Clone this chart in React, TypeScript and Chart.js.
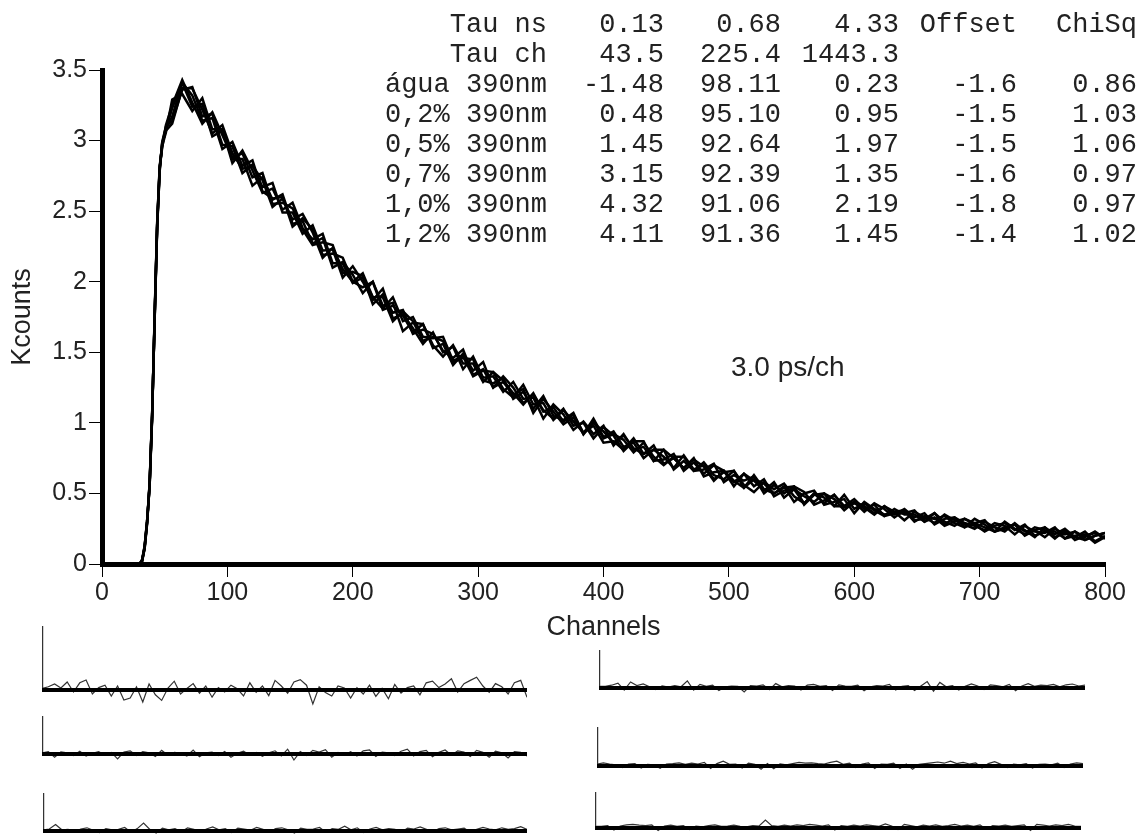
import React, { useEffect, useRef } from "react";
import { Chart, registerables } from "chart.js";
Chart.register(...registerables);

// ---------- main decay data (Kcounts vs channel) ----------
const CHANNELS = [
  0, 30, 32, 34, 36, 38, 40, 42, 44, 46, 48, 51,
  56, 64, 72, 80, 88, 96, 104, 112, 120, 128, 136, 144, 152, 160,
  168, 176, 184, 192, 200, 208, 216, 224, 232, 240, 248, 256, 264, 272, 280, 288, 296, 304, 312, 320,
  328, 336, 344, 352, 360, 368, 376, 384, 392, 400,
  408, 416, 424, 432, 440, 448, 456, 464, 472, 480, 488, 496, 504, 512, 520, 528, 536, 544, 552, 560,
  568, 576, 584, 592, 600,
  608, 616, 624, 632, 640, 648, 656, 664, 672, 680, 688, 696, 704, 712, 720, 728, 736, 744, 752, 760,
  768, 776, 784, 792, 800,
];

const AGUA = [
  0, 0, 0.03, 0.12, 0.3, 0.56, 1.05, 1.75, 2.4, 2.8, 2.97, 3.08,
  3.23, 3.41, 3.24, 3.26, 3.03, 3.07, 2.87, 2.87, 2.68, 2.74, 2.58, 2.62, 2.41, 2.43,
  2.27, 2.31, 2.1, 2.14, 2.05, 1.92, 2.0, 1.83, 1.85, 1.65, 1.71, 1.7, 1.53, 1.56, 1.41, 1.49, 1.37, 1.43, 1.25, 1.29,
  1.2, 1.24, 1.07, 1.17, 1.08, 0.99, 1.04, 0.92, 1.03, 0.9,
  0.94, 0.83, 0.86, 0.75, 0.81, 0.76, 0.68, 0.77, 0.67, 0.7, 0.6, 0.65, 0.66, 0.56, 0.51, 0.58, 0.53, 0.57, 0.48, 0.43,
  0.5, 0.47, 0.41, 0.49, 0.39,
  0.43, 0.38, 0.34, 0.39, 0.35, 0.35, 0.3, 0.36, 0.3, 0.27, 0.32, 0.28, 0.23, 0.27, 0.29, 0.24, 0.28, 0.2, 0.23, 0.23,
  0.18, 0.23, 0.19, 0.23, 0.18,
];
const P02 = [
  0, 0, 0.02, 0.11, 0.29, 0.57, 1.07, 1.73, 2.38, 2.79, 2.99, 3.1,
  3.14, 3.36, 3.38, 3.17, 3.19, 2.97, 2.96, 2.77, 2.83, 2.67, 2.7, 2.49, 2.49, 2.34,
  2.4, 2.22, 2.23, 2.03, 2.11, 2.0, 1.87, 1.95, 1.74, 1.77, 1.67, 1.56, 1.64, 1.5, 1.54, 1.38, 1.47, 1.32, 1.33, 1.22,
  1.29, 1.17, 1.18, 1.03, 1.13, 1.06, 0.95, 1.01, 0.92, 0.98,
  0.84, 0.92, 0.81, 0.83, 0.73, 0.81, 0.75, 0.68, 0.75, 0.62, 0.65, 0.66, 0.55, 0.64, 0.59, 0.52, 0.58, 0.47, 0.53, 0.48,
  0.44, 0.5, 0.46, 0.38, 0.44,
  0.37, 0.43, 0.39, 0.33, 0.38, 0.3, 0.34, 0.32, 0.34, 0.29, 0.26, 0.32, 0.28, 0.23, 0.26, 0.28, 0.2, 0.24, 0.26, 0.19,
  0.22, 0.19, 0.23, 0.16, 0.2,
];
const P05 = [
  0, 0, 0.03, 0.13, 0.31, 0.55, 1.04, 1.76, 2.41, 2.82, 2.96, 3.06,
  3.29, 3.33, 3.21, 3.3, 3.08, 3.08, 2.84, 2.93, 2.79, 2.63, 2.66, 2.51, 2.56, 2.38,
  2.3, 2.34, 2.13, 2.13, 1.99, 2.03, 1.89, 1.81, 1.89, 1.72, 1.75, 1.61, 1.6, 1.61, 1.44, 1.47, 1.33, 1.37, 1.36, 1.24,
  1.18, 1.27, 1.13, 1.14, 1.02, 1.09, 1.01, 0.93, 1.01, 0.89,
  0.92, 0.88, 0.79, 0.86, 0.76, 0.7, 0.76, 0.76, 0.66, 0.67, 0.71, 0.58, 0.63, 0.59, 0.62, 0.5, 0.56, 0.5, 0.55, 0.51,
  0.42, 0.45, 0.49, 0.41, 0.44,
  0.41, 0.36, 0.41, 0.37, 0.31, 0.37, 0.33, 0.29, 0.35, 0.31, 0.28, 0.25, 0.3, 0.26, 0.23, 0.29, 0.23, 0.24, 0.19, 0.25,
  0.21, 0.23, 0.17, 0.2, 0.22,
];
const P07 = [
  0, 0, 0.02, 0.12, 0.3, 0.58, 1.06, 1.74, 2.39, 2.78, 2.98, 3.09,
  3.17, 3.41, 3.32, 3.14, 3.16, 2.94, 2.99, 2.82, 2.86, 2.64, 2.59, 2.6, 2.39, 2.45,
  2.37, 2.19, 2.2, 2.17, 2.0, 1.96, 2.0, 1.8, 1.83, 1.76, 1.64, 1.7, 1.55, 1.47, 1.55, 1.42, 1.42, 1.29, 1.36, 1.3,
  1.21, 1.13, 1.21, 1.08, 1.11, 1.01, 1.06, 0.93, 0.98, 0.86,
  0.87, 0.81, 0.89, 0.78, 0.81, 0.81, 0.67, 0.73, 0.66, 0.72, 0.63, 0.6, 0.66, 0.54, 0.6, 0.57, 0.5, 0.55, 0.44, 0.5,
  0.52, 0.42, 0.44, 0.46, 0.36,
  0.44, 0.39, 0.35, 0.37, 0.38, 0.31, 0.32, 0.36, 0.28, 0.33, 0.29, 0.27, 0.24, 0.29, 0.27, 0.21, 0.27, 0.23, 0.22, 0.26,
  0.18, 0.2, 0.21, 0.15, 0.19,
];
const P10 = [
  0, 0, 0.03, 0.11, 0.29, 0.56, 1.05, 1.77, 2.42, 2.81, 2.95, 3.11,
  3.25, 3.43, 3.27, 3.12, 3.2, 3.04, 2.88, 2.91, 2.74, 2.77, 2.55, 2.56, 2.52, 2.37,
  2.26, 2.28, 2.26, 2.06, 2.07, 2.04, 1.84, 1.91, 1.78, 1.8, 1.63, 1.66, 1.63, 1.51, 1.46, 1.52, 1.34, 1.38, 1.25, 1.33,
  1.25, 1.14, 1.2, 1.09, 1.03, 1.1, 0.98, 1.0, 0.89, 0.97,
  0.91, 0.8, 0.87, 0.87, 0.73, 0.74, 0.78, 0.66, 0.72, 0.64, 0.7, 0.66, 0.59, 0.54, 0.63, 0.53, 0.5, 0.54, 0.55, 0.42,
  0.49, 0.5, 0.41, 0.41, 0.46,
  0.39, 0.42, 0.34, 0.36, 0.36, 0.38, 0.3, 0.33, 0.27, 0.3, 0.32, 0.29, 0.26, 0.23, 0.3, 0.25, 0.21, 0.26, 0.24, 0.18,
  0.24, 0.17, 0.2, 0.22, 0.18,
];
const P12 = [
  0, 0, 0.02, 0.12, 0.31, 0.57, 1.06, 1.74, 2.4, 2.8, 2.98, 3.07,
  3.12, 3.37, 3.37, 3.22, 3.05, 3.11, 2.91, 2.8, 2.82, 2.72, 2.53, 2.59, 2.44, 2.48,
  2.35, 2.17, 2.24, 2.09, 2.0, 2.06, 1.89, 1.89, 1.72, 1.79, 1.72, 1.58, 1.61, 1.58, 1.43, 1.46, 1.45, 1.3, 1.28, 1.32,
  1.17, 1.22, 1.1, 1.19, 1.05, 1.02, 1.07, 0.92, 1.0, 0.94,
  0.86, 0.91, 0.82, 0.78, 0.84, 0.71, 0.75, 0.68, 0.74, 0.69, 0.59, 0.66, 0.58, 0.64, 0.55, 0.6, 0.48, 0.52, 0.53, 0.43,
  0.5, 0.43, 0.49, 0.4, 0.43,
  0.4, 0.35, 0.41, 0.35, 0.39, 0.33, 0.36, 0.28, 0.32, 0.33, 0.26, 0.29, 0.31, 0.23, 0.25, 0.28, 0.24, 0.19, 0.26, 0.21,
  0.25, 0.19, 0.17, 0.2, 0.22,
];

const SAMPLE_NAMES = ["água 390nm", "0,2% 390nm", "0,5% 390nm", "0,7% 390nm", "1,0% 390nm", "1,2% 390nm"];
const SAMPLE_SERIES = [AGUA, P02, P05, P07, P10, P12];

const X_MIN = 0;
const X_MAX = 800;
const X_STEP = 100;
const Y_MIN = 0;
const Y_MAX = 3.5;
const Y_STEP = 0.5;

// ---------- fit table ----------
const HEAD_TAU_NS = ["Tau ns", "0.13", "0.68", "4.33", "Offset", "ChiSq"];
const HEAD_TAU_CH = ["Tau ch", "43.5", "225.4", "1443.3", "", ""];
const AMP_1 = ["-1.48", "0.48", "1.45", "3.15", "4.32", "4.11"];
const AMP_2 = ["98.11", "95.10", "92.64", "92.39", "91.06", "91.36"];
const AMP_3 = ["0.23", "0.95", "1.97", "1.35", "2.19", "1.45"];
const OFFSETS = ["-1.6", "-1.5", "-1.5", "-1.6", "-1.8", "-1.4"];
const CHISQ = ["0.86", "1.03", "1.06", "0.97", "0.97", "1.02"];
const NOTE = "3.0 ps/ch";

// ---------- weighted residuals ----------
const RES_CH = [
  0, 1, 10, 20, 30, 40, 50, 60, 70, 80, 90, 100, 110, 120, 130, 140, 150, 160, 170, 180, 190, 200,
  210, 220, 230, 240, 250, 260, 270, 280, 290, 300, 310, 320, 330, 340, 350, 360, 370, 380, 390, 400,
  410, 420, 430, 440, 450, 460, 470, 480, 490, 500, 510, 520, 530, 540, 550, 560, 570, 580, 590, 600,
  610, 620, 630, 640, 650, 660, 670, 680, 690, 700, 710, 720, 730, 740, 750, 760, 770,
];
const RES_AGUA = [
  16, 0.4,
  0.8, 1.5, 0.5, 2.0, -0.5, 1.8, 2.5, -1.0, 0.6, 1.2, -1.5,
  1.0, -2.5, -2.0, 0.8, -3.0, 1.5, -1.2, -2.6, 0.5, 2.2, -1.0,
  0.4, 1.6, -0.8, 1.0, -1.8, 0.6, -0.5, 1.2, 0.3, -1.5, 1.8,
  -0.6, 1.0, -1.4, 2.4, 1.0, -0.8, 2.0, 2.6, 1.2, -3.5, 0.8,
  -0.6, -1.5, 1.0, 0.5, -2.0, 0.6, -1.0, 1.2, -1.6, 0.4, -2.2,
  1.4, -0.8, 0.6, 1.0, -1.2, 1.8, 2.2, 0.6, 1.5, 2.8, -0.5,
  1.6, 2.4, 3.2, 1.0, -0.6, 1.6, 0.8, -1.0, 1.8, 2.4, -1.8,
];
const RES_P02 = [
  9.5, 0.3,
  0.6, -0.8, 0.5, 0.3, -0.4, 0.7, -0.5, 0.2, 0.6, -0.3, 0.4,
  -1.2, 0.5, 0.8, -0.4, 0.6, 0.3, -0.6, 0.9, -0.3, 0.4, 0.2,
  -0.5, 1.0, -0.7, 0.3, 0.5, -0.4, 0.6, -0.8, 0.2, 0.7, -0.3,
  0.4, -0.6, 0.3, 0.8, -0.5, 1.2, -1.5, 0.6, -0.4, 0.9, 0.5,
  1.1, -0.8, 0.4, -0.3, 0.6, -0.5, 0.8, 1.0, -0.6, 0.5, 0.3,
  -0.4, 0.7, 1.2, -0.5, 0.6, 0.9, -0.7, 0.4, 1.0, -0.3, 0.8,
  0.5, -0.6, 0.9, 0.4, -0.8, 0.7, 0.3, -1.0, 0.6, 0.4, -0.5,
];
const RES_P05 = [
  9.5, 0.3,
  0.5, 1.6, 0.3, 0.4, -0.3, 0.5, 0.8, 0.2, -0.4, 0.6, 0.3,
  0.4, 0.9, -0.3, 0.6, 2.0, 0.4, -0.5, 0.7, 0.3, 0.6, -0.2,
  0.8, 0.4, -0.3, 0.5, 1.0, 0.3, 0.6, -0.4, 0.7, 0.5, 0.2,
  0.9, 0.4, -0.3, 0.6, 0.8, 0.3, -0.5, 0.7, 0.4, 0.5, 0.9,
  -0.3, 0.6, 0.4, 1.2, 0.3, 0.8, -0.4, 0.5, 0.9, 0.3, 0.6,
  0.4, -0.3, 0.7, 0.5, 1.0, 0.4, -0.2, 0.6, 0.8, 0.3, 0.5,
  0.7, -0.3, 0.4, 0.9, 0.5, 0.3, 0.8, 0.4, 0.6, 1.1, 0.4,
];
const RES_P07 = [
  9.5, 0.4,
  0.4, 0.7, 1.2, -0.5, 1.5, 0.6, 1.0, 0.3, -0.4, 0.5, 0.2,
  0.6, 0.3, 1.8, -0.5, 0.9, 0.4, 0.7, -0.6, 0.3, 0.5, 0.4,
  -1.0, 0.6, 0.5, 0.8, -0.4, 1.1, 0.3, 0.6, 0.5, -0.5, 0.7,
  0.9, 0.4, 0.6, -0.6, 0.8, 0.5, 0.4, 0.7, -0.7, 0.3, 0.6,
  0.5, 0.9, -0.5, 0.4, 0.6, -0.6, 0.5, 1.6, -0.8, 1.4, 0.3,
  0.6, -0.5, 0.4, 1.0, 0.5, -0.4, 0.8, 0.6, 0.3, 0.9, -0.7,
  0.5, 1.1, 0.4, 0.7, 0.6, 0.9, 0.3, 0.8, 1.0, 0.5, 0.7,
];
const RES_P10 = [
  9.75, 0.5,
  0.8, 0.5, 0.3, -0.4, 0.5, 0.6, -0.5, 0.4, 0.3, -0.6, 0.5,
  0.6, 0.8, 0.4, 0.7, 0.5, 0.9, -0.6, 0.6, 1.2, 0.4, 0.5,
  -0.5, 0.7, 0.4, -0.8, 0.6, -0.7, 0.5, 0.3, 0.6, 0.9, 0.7,
  0.8, 0.6, 0.5, 0.9, 1.2, 0.4, 0.7, -0.4, 0.5, 0.8, -0.6,
  0.5, 0.4, 0.7, -0.6, 0.5, -0.8, 0.4, 0.6, 0.8, 1.0, 0.7,
  1.2, 0.6, 0.9, 0.5, 0.8, -0.5, 0.6, 1.1, 0.4, -0.4, 0.5,
  0.3, 0.6, -0.5, 0.4, 0.5, 0.3, 0.7, -0.4, 0.5, 0.8, 0.6,
];
const RES_P12 = [
  9, 0.4,
  0.4, 0.6, -0.5, 0.5, 0.8, 0.9, 0.7, 0.6, 0.8, -0.6, 0.5,
  0.7, 0.4, 0.6, -0.4, 0.5, 0.3, 0.6, 0.8, 0.4, 0.5, 0.7,
  0.4, 0.3, 0.6, 0.5, 2.0, 0.6, 0.4, 0.7, 0.5, 0.8, 0.6,
  0.9, 0.7, 0.5, 0.8, -0.5, 0.6, 0.4, 0.7, 0.5, 0.8, 0.6,
  0.4, 1.0, 0.5, -0.4, 0.9, 0.6, 0.3, 0.7, 0.5, 0.8, 0.4,
  0.6, 0.9, 0.5, 0.7, 0.4, 0.8, -0.3, 0.6, 0.5, 0.7, 0.4,
  0.6, 0.8, -0.6, 0.9, 0.7, 0.5, 0.8, 0.6, 0.9, 0.5, 0.4,
];

// panel layout: left edge, baseline y, width
const RES_PANELS = [
  { res: RES_AGUA, left: 42, base: 690, width: 485 },
  { res: RES_P02, left: 42, base: 754, width: 485 },
  { res: RES_P05, left: 43, base: 831, width: 484 },
  { res: RES_P07, left: 599, base: 688, width: 486 },
  { res: RES_P10, left: 597, base: 766, width: 486 },
  { res: RES_P12, left: 595, base: 828, width: 486 },
];
const RES_Y_MIN = -6.5;
const RES_Y_MAX = 18.5;
const RES_H = 100;

const SANS = "'Liberation Sans', Arial, sans-serif";
const MONO = "'Liberation Mono', 'Courier New', monospace";
const TEXT_COLOR = "#222";

function MainChart() {
  const ref = useRef<HTMLCanvasElement | null>(null);
  useEffect(() => {
    const canvas = ref.current;
    if (!canvas) return;
    const tickFont = { family: SANS, size: 25 };
    const titleFont = { family: SANS, size: 27 };
    const chart = new Chart(canvas, {
      type: "line",
      data: {
        datasets: SAMPLE_SERIES.map((s, k) => ({
          label: SAMPLE_NAMES[k],
          data: CHANNELS.map((c, i) => ({ x: c, y: s[i] })),
          borderColor: "#000",
          borderWidth: 2.5,
          pointRadius: 0,
          fill: false,
          tension: 0,
        })),
      },
      options: {
        animation: false,
        responsive: false,
        devicePixelRatio: 1,
        layout: { padding: { left: 0, top: 70, right: 36, bottom: 0 } },
        plugins: { legend: { display: false }, tooltip: { enabled: false } },
        scales: {
          x: {
            type: "linear",
            min: X_MIN,
            max: X_MAX,
            ticks: {
              stepSize: X_STEP,
              font: tickFont,
              color: TEXT_COLOR,
              padding: 1,
              maxRotation: 0,
              callback: (v: any) => String(v),
            },
            grid: { display: true, drawOnChartArea: false, drawTicks: true, tickLength: 13, color: "#000", lineWidth: 1 },
            border: { display: true, width: 5, color: "#000" },
            title: { display: true, text: "Channels", font: titleFont, color: TEXT_COLOR, padding: { top: 0, bottom: 6 } },
            afterFit: (s: any) => { s.height = 86; },
          },
          y: {
            type: "linear",
            min: Y_MIN,
            max: Y_MAX,
            ticks: {
              stepSize: Y_STEP,
              font: tickFont,
              color: TEXT_COLOR,
              padding: 2,
              callback: (v: any) => String(v),
            },
            grid: { display: true, drawOnChartArea: false, drawTicks: true, tickLength: 13, color: "#000", lineWidth: 1 },
            border: { display: true, width: 5, color: "#000" },
            title: { display: true, text: "Kcounts", font: titleFont, color: TEXT_COLOR, padding: { top: 6, bottom: 0 } },
            afterFit: (s: any) => { s.width = 102; },
          },
        },
      },
    } as any);
    return () => chart.destroy();
  }, []);
  return (
    <canvas
      ref={ref}
      width={1141}
      height={650}
      style={{ position: "absolute", left: 0, top: 0, width: 1141, height: 650 }}
    />
  );
}

function ResidualPanel({ res, left, base, width }: { res: number[]; left: number; base: number; width: number }) {
  const ref = useRef<HTMLCanvasElement | null>(null);
  useEffect(() => {
    const canvas = ref.current;
    if (!canvas) return;
    const chart = new Chart(canvas, {
      type: "line",
      data: {
        datasets: [
          {
            data: RES_CH.map((c) => ({ x: c, y: 0 })),
            borderColor: "#000",
            borderWidth: 4,
            pointRadius: 0,
          },
          {
            data: RES_CH.map((c, i) => ({ x: c, y: res[i] })),
            borderColor: "#333",
            borderWidth: 1.2,
            pointRadius: 0,
          },
        ],
      },
      options: {
        animation: false,
        responsive: false,
        devicePixelRatio: 1,
        layout: { padding: 0 },
        plugins: { legend: { display: false }, tooltip: { enabled: false } },
        scales: {
          x: { type: "linear", display: false, min: RES_CH[0], max: RES_CH[RES_CH.length - 1] },
          y: { type: "linear", display: false, min: RES_Y_MIN, max: RES_Y_MAX },
        },
      },
    } as any);
    return () => chart.destroy();
  }, [res]);
  const top = base - (RES_Y_MAX / (RES_Y_MAX - RES_Y_MIN)) * RES_H;
  return (
    <canvas
      ref={ref}
      width={width}
      height={RES_H}
      style={{ position: "absolute", left, top, width, height: RES_H }}
    />
  );
}

const COL_RIGHT = [547, 664, 781, 899, 1017, 1137];
const ROW_Y0 = 25;
const ROW_STEP = 30;

function FitTable() {
  const rows: string[][] = [HEAD_TAU_NS, HEAD_TAU_CH];
  SAMPLE_NAMES.forEach((n, i) => rows.push([n, AMP_1[i], AMP_2[i], AMP_3[i], OFFSETS[i], CHISQ[i]]));
  return (
    <>
      {rows.map((r, ri) =>
        r.map((cell, ci) =>
          cell ? (
            <div
              key={`${ri}-${ci}`}
              style={{
                position: "absolute",
                right: 1141 - COL_RIGHT[ci],
                top: ROW_Y0 + ri * ROW_STEP - 15,
                height: 30,
                lineHeight: "30px",
                fontFamily: MONO,
                fontSize: 27,
                color: TEXT_COLOR,
                whiteSpace: "pre",
              }}
            >
              {cell}
            </div>
          ) : null
        )
      )}
    </>
  );
}

export default function App() {
  return (
    <div
      style={{
        position: "fixed",
        left: 0,
        top: 0,
        width: 1141,
        height: 834,
        overflow: "hidden",
        background: "#fff",
      }}
    >
      <MainChart />
      <FitTable />
      <div
        style={{
          position: "absolute",
          left: 731,
          top: 350,
          fontFamily: SANS,
          fontSize: 28,
          lineHeight: "34px",
          color: TEXT_COLOR,
          whiteSpace: "pre",
        }}
      >
        {NOTE}
      </div>
      {RES_PANELS.map((p, i) => (
        <ResidualPanel key={i} res={p.res} left={p.left} base={p.base} width={p.width} />
      ))}
    </div>
  );
}
